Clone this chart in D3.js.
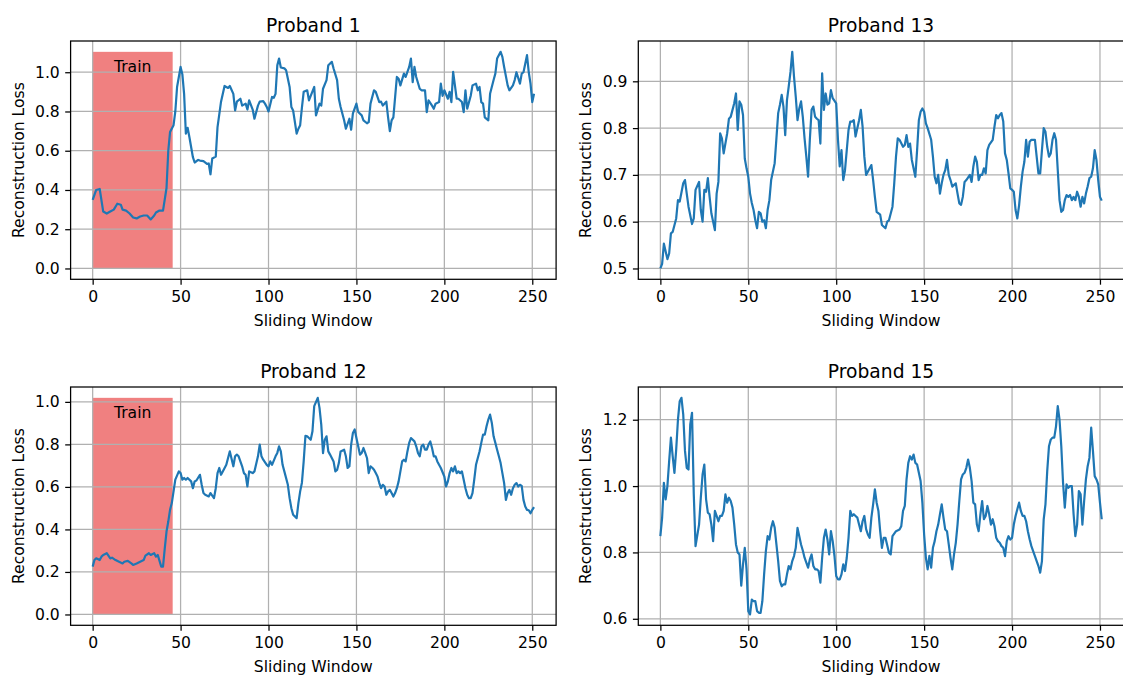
<!DOCTYPE html>
<html>
<head>
<meta charset="utf-8">
<script src="https://cdn.jsdelivr.net/npm/d3@7"></script>
<style>
  body { margin: 0; background: #fff; }
  svg text { font-family: "DejaVu Sans", sans-serif; }
</style>
</head>
<body>
<div id="chart"></div>
<script>
// titles / ticks
const titles = ["Proband 1", "Proband 13", "Proband 12", "Proband 15"];
const xTicks = [0, 50, 100, 150, 200, 250];
const yTicksP1 = [0.0, 0.2, 0.4, 0.6, 0.8, 1.0];
const yTicksP13 = [0.5, 0.6, 0.7, 0.8, 0.9];
const yTicksP12 = [0.0, 0.2, 0.4, 0.6, 0.8, 1.0];
const yTicksP15 = [0.6, 0.8, 1.0, 1.2];
const trainLabel = "Train";
const trainStart = 0, trainEnd = 45.5;

// [sliding window, reconstruction loss]
const proband1 = [[0,.35],[2,.40],[4,.405],[6,.29],[8,.28],[10,.29],[12,.30],[14,.33],[16,.325],[17,.30],[19,.295],[21,.28],[23,.26],[25,.255],[27,.265],[29,.27],[31,.27],[33,.25],[35,.27],[36,.285],[38,.295],[40,.295],[42,.41],[43,.60],[44,.695],[46,.73],[47,.80],[48,.925],[50,1.027],[51,.99],[52,.89],[53,.687],[54,.717],[55,.67],[57,.567],[58,.54],[60,.553],[61,.55],[63,.547],[65,.533],[66,.535],[67,.48],[68,.56],[70,.57],[71,.72],[73,.85],[75,.93],[77,.92],[78,.93],[80,.89],[81,.805],[82,.85],[84,.865],[85,.83],[87,.84],[88,.81],[89,.857],[91,.81],[92,.763],[94,.83],[95,.85],[97,.853],[98,.84],[99,.823],[100,.80],[102,.874],[103,.87],[104,.89],[105,1.035],[106,1.07],[107,1.024],[109,1.02],[110,1.01],[112,.925],[113,.823],[114,.805],[116,.687],[117,.712],[118,.73],[119,.82],[120,.90],[122,.908],[123,.857],[124,.88],[126,.925],[127,.78],[129,.84],[130,.83],[131,.916],[133,.96],[134,1.036],[136,1.053],[137,1.019],[139,.96],[140,.865],[141,.823],[143,.755],[144,.712],[146,.763],[147,.707],[148,.79],[150,.84],[151,.797],[153,.78],[154,.755],[156,.74],[157,.746],[158,.84],[160,.908],[161,.90],[163,.848],[164,.85],[165,.83],[167,.85],[168,.77],[169,.70],[170,.755],[171,.77],[173,.976],[174,.967],[175,.933],[177,.993],[178,.976],[180,1.027],[181,1.07],[182,.95],[183,1.027],[184,.976],[186,.916],[187,.908],[189,.908],[190,.797],[191,.857],[193,.83],[194,.814],[195,.84],[197,.848],[198,.942],[199,.88],[200,.908],[202,.865],[203,.90],[204,.848],[205,1.002],[207,.865],[208,.865],[210,.848],[211,.797],[212,.908],[213,.814],[215,.88],[216,.933],[218,.942],[219,.908],[220,.925],[221,.848],[222,.84],[223,.77],[225,.755],[226,.89],[228,.96],[229,.993],[230,1.07],[232,1.104],[233,1.078],[234,1.027],[236,.933],[237,.908],[239,.933],[240,.96],[241,1.0],[243,.942],[244,.993],[245,1.0],[247,1.087],[248,1.0],[249,.942],[250,.848],[251,.89]];

const proband13 = [[0,.50],[1,.51],[2,.553],[4,.52],[5,.532],[6,.575],[7,.578],[9,.607],[10,.646],[11,.643],[13,.682],[14,.689],[15,.66],[16,.632],[18,.595],[19,.607],[20,.668],[22,.685],[23,.625],[24,.60],[25,.668],[26,.664],[27,.693],[28,.653],[29,.618],[31,.582],[32,.66],[33,.685],[34,.789],[35,.778],[36,.746],[38,.789],[39,.82],[40,.824],[42,.853],[43,.874],[44,.796],[45,.857],[46,.85],[47,.828],[48,.735],[49,.714],[50,.696],[51,.66],[52,.64],[53,.625],[54,.603],[55,.586],[56,.621],[57,.618],[58,.60],[59,.603],[60,.586],[61,.625],[62,.646],[63,.689],[65,.725],[66,.778],[67,.832],[68,.85],[69,.871],[70,.846],[71,.785],[72,.86],[73,.889],[74,.92],[75,.963],[76,.91],[77,.867],[78,.817],[79,.842],[80,.857],[81,.824],[82,.778],[83,.739],[84,.696],[85,.775],[86,.839],[87,.846],[88,.824],[89,.82],[90,.817],[91,.767],[92,.917],[93,.839],[94,.874],[95,.85],[96,.853],[97,.881],[98,.864],[100,.853],[101,.775],[102,.718],[103,.753],[104,.689],[105,.71],[106,.753],[107,.796],[108,.814],[109,.814],[110,.817],[111,.782],[113,.817],[114,.839],[115,.803],[116,.739],[117,.70],[118,.707],[120,.721],[121,.689],[122,.653],[123,.621],[125,.615],[126,.593],[128,.586],[129,.60],[130,.603],[132,.632],[133,.682],[134,.739],[135,.778],[136,.775],[138,.76],[139,.764],[140,.785],[141,.76],[142,.767],[143,.732],[145,.696],[146,.753],[147,.817],[148,.835],[149,.842],[150,.835],[151,.81],[152,.80],[154,.775],[155,.739],[156,.696],[157,.682],[158,.70],[159,.66],[160,.682],[161,.70],[162,.71],[163,.732],[164,.70],[165,.689],[166,.675],[168,.682],[169,.66],[170,.639],[171,.636],[172,.653],[173,.685],[174,.689],[176,.70],[177,.685],[178,.718],[179,.739],[180,.728],[181,.689],[182,.70],[183,.70],[184,.714],[185,.703],[186,.753],[187,.764],[189,.775],[190,.803],[191,.828],[192,.821],[193,.828],[194,.832],[195,.814],[196,.746],[197,.732],[198,.703],[199,.671],[200,.668],[201,.664],[202,.625],[203,.607],[204,.635],[205,.675],[206,.707],[207,.728],[208,.775],[209,.739],[210,.771],[211,.775],[213,.775],[214,.739],[215,.703],[216,.703],[217,.753],[218,.80],[219,.792],[220,.76],[221,.739],[222,.746],[223,.775],[224,.789],[225,.775],[226,.71],[227,.646],[228,.621],[229,.625],[230,.646],[231,.657],[232,.653],[233,.657],[234,.646],[235,.653],[236,.646],[237,.664],[238,.653],[239,.632],[240,.653],[241,.639],[242,.66],[243,.675],[244,.693],[245,.696],[246,.714],[247,.753],[248,.732],[249,.689],[250,.653],[251,.645]];

const proband12 = [[0,.225],[1,.256],[2,.264],[4,.256],[5,.272],[6,.28],[8,.288],[10,.264],[11,.267],[13,.256],[15,.248],[17,.24],[18,.248],[20,.252],[22,.24],[23,.233],[25,.24],[27,.248],[29,.256],[30,.277],[32,.288],[33,.28],[35,.288],[36,.272],[37,.28],[39,.225],[40,.225],[41,.311],[42,.39],[43,.437],[44,.492],[45,.524],[46,.579],[47,.634],[49,.673],[50,.665],[51,.634],[52,.642],[53,.634],[54,.642],[56,.626],[57,.594],[58,.626],[59,.63],[61,.657],[62,.61],[63,.571],[64,.563],[66,.555],[67,.571],[69,.547],[70,.594],[71,.665],[72,.689],[73,.657],[74,.673],[76,.704],[77,.736],[78,.767],[80,.697],[81,.744],[82,.752],[83,.744],[85,.697],[86,.665],[87,.657],[88,.602],[89,.673],[91,.665],[92,.673],[94,.744],[95,.799],[96,.744],[97,.728],[99,.704],[100,.697],[101,.72],[102,.704],[104,.744],[105,.76],[106,.791],[107,.767],[108,.704],[109,.673],[111,.61],[112,.547],[113,.50],[114,.469],[116,.453],[117,.524],[118,.579],[119,.62],[120,.72],[121,.84],[122,.838],[124,.822],[125,.862],[126,.98],[128,1.019],[129,.972],[130,.893],[131,.759],[132,.822],[133,.838],[134,.767],[135,.752],[136,.736],[137,.72],[138,.673],[139,.68],[140,.712],[141,.767],[143,.775],[144,.744],[145,.689],[146,.697],[147,.799],[148,.854],[149,.87],[150,.83],[151,.791],[152,.752],[153,.76],[154,.783],[155,.76],[156,.736],[157,.665],[158,.697],[159,.69],[160,.681],[161,.665],[162,.649],[163,.618],[164,.594],[165,.61],[166,.602],[167,.563],[168,.579],[169,.586],[170,.571],[171,.555],[172,.571],[173,.594],[174,.626],[176,.72],[177,.728],[178,.72],[179,.767],[180,.807],[181,.83],[183,.814],[184,.791],[185,.76],[186,.744],[187,.791],[188,.799],[189,.775],[190,.775],[191,.799],[192,.814],[193,.783],[194,.744],[195,.744],[196,.72],[197,.704],[198,.689],[200,.649],[201,.602],[202,.626],[203,.665],[204,.689],[205,.673],[206,.697],[207,.665],[208,.673],[209,.665],[210,.673],[211,.634],[212,.594],[213,.563],[214,.547],[215,.547],[216,.571],[217,.634],[218,.704],[220,.767],[221,.807],[222,.846],[223,.846],[224,.885],[225,.917],[226,.94],[227,.901],[228,.838],[229,.807],[230,.775],[231,.744],[232,.712],[233,.665],[234,.618],[235,.539],[236,.571],[237,.586],[238,.563],[239,.594],[240,.61],[241,.618],[242,.602],[243,.61],[244,.605],[245,.539],[246,.508],[247,.492],[248,.49],[249,.476],[250,.492],[251,.505]];

const proband15 = [[0,.849],[1,.905],[2,1.01],[3,.96],[4,1.0],[5,1.075],[6,1.146],[7,1.09],[8,1.04],[9,1.11],[10,1.20],[11,1.256],[12,1.266],[13,1.216],[14,1.106],[15,1.055],[16,1.05],[17,1.186],[18,1.221],[19,.975],[20,.819],[22,.884],[23,.965],[24,1.035],[25,1.065],[26,.96],[27,.92],[28,.915],[29,.884],[30,.834],[31,.925],[32,.91],[33,.894],[34,.91],[35,.91],[36,.925],[37,.975],[38,.95],[39,.965],[40,.955],[41,.935],[42,.884],[43,.824],[44,.80],[45,.794],[46,.70],[47,.764],[48,.814],[49,.75],[50,.623],[51,.613],[52,.658],[53,.653],[54,.653],[55,.623],[56,.618],[57,.618],[58,.653],[59,.734],[60,.804],[61,.849],[62,.839],[63,.874],[64,.894],[65,.875],[66,.824],[67,.774],[68,.714],[69,.698],[70,.704],[71,.704],[72,.734],[73,.759],[74,.749],[75,.774],[76,.789],[77,.814],[78,.874],[79,.849],[80,.824],[81,.806],[82,.784],[83,.769],[84,.754],[85,.779],[86,.794],[87,.759],[88,.749],[89,.749],[90,.744],[91,.709],[92,.784],[93,.844],[94,.869],[95,.839],[96,.794],[97,.864],[98,.834],[99,.79],[100,.729],[101,.719],[102,.719],[103,.734],[104,.764],[105,.744],[106,.784],[107,.844],[108,.925],[109,.91],[110,.915],[111,.91],[112,.905],[113,.884],[114,.864],[115,.894],[116,.91],[117,.87],[118,.854],[119,.844],[120,.905],[121,.945],[122,.99],[123,.95],[124,.925],[125,.864],[126,.814],[127,.844],[128,.844],[130,.799],[131,.794],[132,.849],[134,.864],[136,.869],[137,.879],[138,.925],[139,.94],[140,1.02],[141,1.07],[142,1.09],[143,1.08],[144,1.095],[145,1.07],[146,1.065],[147,1.04],[148,1.015],[149,.95],[150,.854],[151,.784],[152,.749],[153,.79],[154,.754],[155,.814],[156,.834],[157,.864],[158,.884],[159,.915],[160,.945],[161,.905],[162,.869],[163,.864],[164,.824],[165,.784],[166,.749],[167,.794],[168,.829],[169,.884],[170,.955],[171,1.02],[172,1.035],[173,1.04],[174,1.055],[175,1.08],[176,1.055],[177,1.015],[178,.95],[179,.945],[180,.884],[181,.864],[182,.915],[183,.955],[184,.9],[185,.91],[186,.94],[187,.915],[188,.884],[189,.9],[190,.879],[191,.844],[192,.834],[193,.829],[194,.819],[195,.814],[196,.789],[197,.834],[198,.849],[199,.839],[200,.844],[201,.884],[202,.91],[203,.93],[204,.95],[205,.925],[206,.91],[207,.91],[208,.894],[209,.864],[210,.84],[211,.819],[212,.804],[213,.789],[214,.774],[215,.759],[216,.739],[217,.774],[218,.9],[219,.945],[220,1.045],[221,1.12],[222,1.14],[223,1.146],[224,1.146],[225,1.18],[226,1.241],[227,1.2],[228,1.12],[229,1.01],[230,.935],[231,1.005],[232,.995],[233,1.0],[234,1.0],[235,.915],[236,.849],[237,.884],[238,.985],[239,.975],[240,.884],[241,.955],[242,1.02],[243,1.06],[244,1.085],[245,1.176],[246,1.106],[247,1.03],[248,1.02],[249,1.005],[250,.95],[251,.9]];

var W = 1123, H = 678;
var colLeft = [70.6, 638.3], rowTop = [41, 387];
var pw = 485.5, ph = 238.3;
var fs = 15.6;

var svg = d3.select("#chart").append("svg")
  .attr("width", W).attr("height", H)
  .style("display", "block");

var panels = [
  { title: titles[0], data: proband1, yTicks: yTicksP1, train: true, col: 0, row: 0 },
  { title: titles[1], data: proband13, yTicks: yTicksP13, train: false, col: 1, row: 0 },
  { title: titles[2], data: proband12, yTicks: yTicksP12, train: true, col: 0, row: 1 },
  { title: titles[3], data: proband15, yTicks: yTicksP15, train: false, col: 1, row: 1 }
];

function pad(ext) {
  var m = (ext[1] - ext[0]) * 0.05;
  return [ext[0] - m, ext[1] + m];
}

function plotPanel(p) {
  var left = colLeft[p.col], top = rowTop[p.row];
  var g = svg.append("g").attr("transform", "translate(" + left + "," + top + ")");

  var xExt = d3.extent(p.data, function (d) { return d[0]; });
  var yExt = d3.extent(p.data, function (d) { return d[1]; });
  if (p.train) yExt[0] = Math.min(0, yExt[0]);
  var x = d3.scaleLinear().domain(pad(xExt)).range([0, pw]);
  var y = d3.scaleLinear().domain(pad(yExt)).range([ph, 0]);
  var lossMax = yExt[1];

  // train region
  if (p.train) {
    g.append("rect")
      .attr("x", x(trainStart))
      .attr("y", y(lossMax))
      .attr("width", x(trainEnd) - x(trainStart))
      .attr("height", y(0) - y(lossMax))
      .attr("fill", "#f08080");
  }

  // grid
  g.selectAll(".gx").data(xTicks).enter().append("line")
    .attr("x1", function (d) { return x(d); }).attr("x2", function (d) { return x(d); })
    .attr("y1", 0).attr("y2", ph)
    .attr("stroke", "#b0b0b0").attr("stroke-width", 1.25);
  g.selectAll(".gy").data(p.yTicks).enter().append("line")
    .attr("y1", function (d) { return y(d); }).attr("y2", function (d) { return y(d); })
    .attr("x1", 0).attr("x2", pw)
    .attr("stroke", "#b0b0b0").attr("stroke-width", 1.25);

  if (p.train) {
    g.append("text")
      .attr("x", x((trainStart + trainEnd) / 2))
      .attr("y", y(lossMax * 0.93))
      .attr("dy", "0.35em")
      .attr("text-anchor", "middle")
      .style("font-size", fs + "px")
      .text(trainLabel);
  }

  // loss line
  var line = d3.line()
    .x(function (d) { return x(d[0]); })
    .y(function (d) { return y(d[1]); });
  g.append("path")
    .datum(p.data)
    .attr("d", line)
    .attr("fill", "none")
    .attr("stroke", "#1f77b4")
    .attr("stroke-width", 2.2)
    .attr("stroke-linejoin", "round");

  // axes
  var xAxis = g.append("g").attr("transform", "translate(0," + ph + ")")
    .call(d3.axisBottom(x).tickValues(xTicks).tickSize(5.4).tickPadding(6.5));
  var yAxis = g.append("g")
    .call(d3.axisLeft(y).tickValues(p.yTicks).tickFormat(d3.format(".1f")).tickSize(5.4).tickPadding(5.4));
  [xAxis, yAxis].forEach(function (a) {
    a.select(".domain").remove();
    a.selectAll(".tick line").attr("stroke", "#000").attr("stroke-width", 1.25);
    a.selectAll(".tick text")
      .style("font-size", fs + "px")
      .style("font-family", "DejaVu Sans")
      .attr("fill", "#000");
  });

  // frame
  g.append("rect")
    .attr("width", pw).attr("height", ph)
    .attr("fill", "none").attr("stroke", "#000").attr("stroke-width", 1.25);

  // labels
  g.append("text")
    .attr("x", pw / 2).attr("y", -9.4)
    .attr("text-anchor", "middle")
    .style("font-size", "18.7px")
    .text(p.title);
  g.append("text")
    .attr("x", pw / 2).attr("y", ph + 46.3)
    .attr("text-anchor", "middle")
    .style("font-size", fs + "px")
    .text("Sliding Window");
  g.append("text")
    .attr("transform", "translate(" + (-52.5) + "," + (ph / 2) + ") rotate(-90)")
    .attr("text-anchor", "middle")
    .attr("dy", "0.35em")
    .style("font-size", fs + "px")
    .text("Reconstruction Loss");
}

panels.forEach(plotPanel);
</script>
</body>
</html>
